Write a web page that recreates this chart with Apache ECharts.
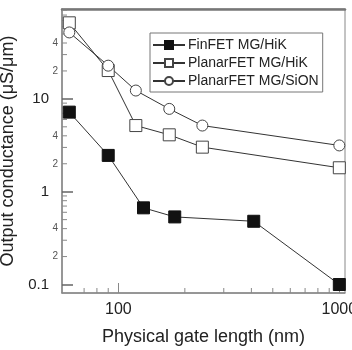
<!DOCTYPE html>
<html>
<head>
<meta charset="utf-8">
<script src="https://cdn.jsdelivr.net/npm/echarts@6/dist/echarts.min.js"></script>
<style>
html,body{margin:0;padding:0;background:#fff;}
#c{width:352px;height:350px;}
</style>
</head>
<body>
<div id="c"></div>
<script>
// ---- data ----
const finX = [60, 90, 130, 180, 410, 1000];
const finY = [7.2, 2.46, 0.67, 0.535, 0.48, 0.10];
const hikX = [60, 90, 120, 170, 240, 1000];
const hikY = [66, 20.2, 5.16, 4.1, 3.02, 1.81];
const sionX = [60, 90, 120, 170, 240, 1000];
const sionY = [52, 22.8, 12.3, 7.8, 5.16, 3.15];
const seriesNames = ['FinFET MG/HiK', 'PlanarFET MG/HiK', 'PlanarFET MG/SiON'];
const yMajorLabels = {'-1': '0.1', '0': '1', '1': '10'};
const xMajorLabels = {'2': '100', '3': '1000'};
const yMinorTicks = [0.2, 0.3, 0.4, 0.5, 0.6, 0.7, 0.8, 0.9, 2, 3, 4, 5, 6, 7, 8, 9, 20, 30, 40, 50, 60, 70, 80, 90];
const yMinorLabels = {0.2: '2', 0.4: '4', 2: '2', 4: '4', 20: '2', 40: '4'};
const xMinorTicks = [70, 80, 90, 200, 300, 400, 500, 600, 700, 800, 900];
const xRange = [55.6, 1061];
const yRange = [0.081, 93];

const FONT = 'Liberation Sans, Arial, Helvetica, sans-serif';
const lineCol = '#333';
const axisCol = '#888';

function pow10Label(map) {
  return function (v) {
    const l = Math.log10(v);
    const r = Math.round(l);
    if (Math.abs(l - r) < 1e-6 && map[String(r)] !== undefined) return map[String(r)];
    return '';
  };
}

const chart = echarts.init(document.getElementById('c'), null, {renderer: 'canvas'});

function pts(xs, ys) { return xs.map((x, i) => [x, ys[i]]); }

const option = {
  animation: false,
  backgroundColor: '#fff',
  grid: {left: 62, right: 7, top: 9, bottom: 57, show: true, borderColor: axisCol, borderWidth: 1,
         outerBoundsMode: 'none', containLabel: false},
  legend: {
    data: seriesNames,
    orient: 'vertical',
    left: 150, top: 33,
    padding: [5, 4, 4, 2],
    itemGap: 4,
    itemWidth: 32, itemHeight: 10,
    borderColor: '#777', borderWidth: 1,
    backgroundColor: '#fff',
    textStyle: {fontFamily: FONT, fontSize: 14, color: '#222', padding: [0, 0, 0, -2]}
  },
  xAxis: [{
    type: 'log', logBase: 10, min: xRange[0], max: xRange[1],
    name: 'Physical gate length (nm)', nameLocation: 'middle', nameGap: 35,
    nameTextStyle: {fontFamily: FONT, fontSize: 18, color: '#222'},
    axisLine: {lineStyle: {color: axisCol, width: 1.5}},
    axisTick: {inside: true, length: 10, lineStyle: {color: axisCol, width: 1}},
    axisLabel: {fontFamily: FONT, fontSize: 16, color: '#222', margin: 9, showMinLabel: false, showMaxLabel: false, formatter: pow10Label(xMajorLabels)},
    splitLine: {show: false}
  }, {
    type: 'log', logBase: 10, min: xRange[0], max: xRange[1], position: 'top',
    axisLine: {lineStyle: {color: '#777', width: 2.5}},
    axisTick: {show: false}, axisLabel: {show: false}, splitLine: {show: false}
  }],
  yAxis: {
    type: 'log', logBase: 10, min: yRange[0], max: yRange[1],
    name: 'Output conductance (\u03bcS/\u03bcm)', nameLocation: 'middle', nameGap: 40,
    nameTextStyle: {fontFamily: FONT, fontSize: 18, color: '#222'},
    axisLine: {lineStyle: {color: axisCol, width: 1.5}},
    axisTick: {inside: true, length: 11, lineStyle: {color: '#666', width: 1.5}},
    axisLabel: {fontFamily: FONT, fontSize: 15, color: '#222', margin: 13, showMinLabel: false, showMaxLabel: false, formatter: pow10Label(yMajorLabels)},
    splitLine: {show: false}
  },
  series: [
    {
      name: seriesNames[0], type: 'line', data: pts(finX, finY),
      symbol: 'rect', symbolSize: 12,
      lineStyle: {color: lineCol, width: 1},
      itemStyle: {color: '#111', borderColor: '#111', borderWidth: 1},
      z: 3
    },
    {
      name: seriesNames[1], type: 'line', data: pts(hikX, hikY),
      symbol: 'rect', symbolSize: 12,
      lineStyle: {color: lineCol, width: 1},
      itemStyle: {color: '#fff', borderColor: '#444', borderWidth: 1},
      z: 3
    },
    {
      name: seriesNames[2], type: 'line', data: pts(sionX, sionY),
      symbol: 'circle', symbolSize: 11,
      lineStyle: {color: lineCol, width: 1},
      itemStyle: {color: '#fff', borderColor: '#444', borderWidth: 1},
      z: 3
    },
    {
      type: 'custom', silent: true, clip: false,
      data: yMinorTicks.map(v => [100, v]),
      renderItem: function (params, api) {
        const cs = params.coordSys;
        const v = api.value(1);
        const y = api.coord([100, v])[1];
        const x = cs.x;
        const children = [{
          type: 'line', shape: {x1: x, y1: y, x2: x + 5, y2: y},
          style: {stroke: axisCol, lineWidth: 1}
        }];
        const key = Object.keys(yMinorLabels).find(k => Math.abs(parseFloat(k) - v) < 1e-9);
        if (key !== undefined) {
          children.push({
            type: 'text',
            style: {text: yMinorLabels[key], x: x - 4, y: y, align: 'right', verticalAlign: 'middle',
                    font: '10px ' + FONT, fill: '#555'}
          });
        }
        return {type: 'group', children: children};
      }
    },
    {
      type: 'custom', silent: true, clip: false,
      data: xMinorTicks.map(v => [v, 1]),
      renderItem: function (params, api) {
        const cs = params.coordSys;
        const x = api.coord([api.value(0), 1])[0];
        const y = cs.y + cs.height;
        return {type: 'line', shape: {x1: x, y1: y, x2: x, y2: y - 5},
                style: {stroke: axisCol, lineWidth: 1}};
      }
    }
  ]
};
chart.setOption(option);
</script>
</body>
</html>
